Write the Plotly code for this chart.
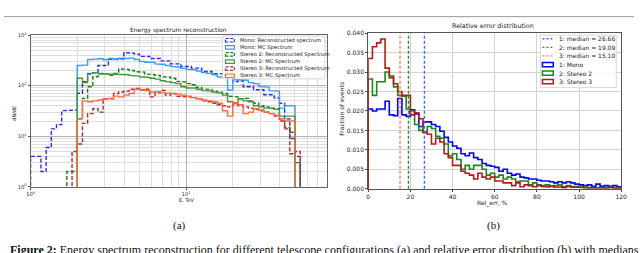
import numpy as np
import plotly.graph_objects as go

W, H = 640, 253

# ---------------- Left panel: energy spectrum (log bins, 1/30 decade) ----------------
E_MIN_LOG, E_MAX_LOG, N_EBINS = 0.0, 2.0, 60
mono_reco = [4, 4, 2, 6, 14, 17, 32, 32, 33, 71, 120, 170, 180, 250, 250, 330, 340, 340, 450, 440,
             420, 380, 380, 345, 345, 310, 310, 270, 270, 240, 240, 222, 222, 191, 191, 173, 173, 160,
             160, 120, 125, 95, 95, 83, 83, 66, 66, 57, 45, 22, 9, 4]
mono_mc = [0] * 9 + [250, 255, 330, 335, 340, 325, 345, 330, 350, 345, 350, 330, 300, 290, 290, 270,
                     262, 250, 240, 232, 220, 212, 205, 195, 182, 175, 165, 150, 145, 82, 132, 130,
                     128, 115, 110, 97, 94, 80, 78, 36, 40, 40]
stereo2_reco = [0] * 7 + [2, 2, 22, 56, 95, 150, 170, 172, 160, 175, 215, 210, 200, 190, 185, 170, 165,
                          160, 150, 148, 140, 122, 118, 110, 104, 92, 86, 84, 78, 74, 70, 62, 60, 55,
                          56, 50, 45, 40, 38, 36, 35, 22, 15, 12, 3]
stereo2_mc = [0] * 9 + [140, 115, 175, 180, 175, 170, 170, 165, 168, 165, 160, 155, 150, 145, 140, 135,
                        125, 120, 115, 110, 95, 90, 90, 85, 80, 78, 75, 72, 65, 48, 45, 55, 50, 48, 40,
                        38, 36, 36, 34, 25, 25, 25]
stereo3_reco = [0] * 8 + [5, 7, 18, 28, 35, 30, 55, 55, 70, 75, 78, 85, 88, 82, 85, 60, 72, 80, 65, 70,
                          62, 62, 60, 58, 55, 50, 48, 45, 42, 40, 38, 42, 40, 38, 36, 34, 32, 30, 28,
                          25, 20, 14, 4.5, 5]
stereo3_mc = [0] * 9 + [22, 50, 48, 50, 52, 55, 56, 62, 60, 65, 70, 85, 84, 80, 75, 76, 72, 71, 70, 68,
                        65, 62, 58, 55, 52, 50, 48, 45, 32, 25, 46, 42, 28, 30, 35, 33, 30, 28, 26, 22,
                        20, 20]
left_names = ["Mono: Reconstructed spectrum", "Mono: MC Spectrum",
              "Stereo 2: Reconstructed Spectrum", "Stereo 2: MC Spectrum",
              "Stereo 3: Reconstructed Spectrum", "Stereo 3: MC Spectrum"]
left_colors = ["#2b2be8", "#3a9cf2", "#1d7a1d", "#3f9a3f", "#b22a2a", "#ff6a3c"]
left_dash = ["dash", "solid", "dash", "solid", "dash", "solid"]
left_series = [mono_reco, mono_mc, stereo2_reco, stereo2_mc, stereo3_reco, stereo3_mc]

# ---------------- Right panel: relative error distribution ----------------
rel_edges = list(range(0, 121, 2))
rel_mono = [0.0205, 0.0200, 0.0205, 0.0205, 0.0225, 0.0190, 0.0188, 0.0232, 0.0190, 0.0186,
            0.0203, 0.0192, 0.0160, 0.0172, 0.0172, 0.0165, 0.0160, 0.0148, 0.0132, 0.0120,
            0.0110, 0.0104, 0.0090, 0.0085, 0.0092, 0.0080, 0.0075, 0.0065, 0.0060, 0.0058,
            0.0055, 0.0045, 0.0050, 0.0040, 0.0035, 0.0038, 0.0030, 0.0028, 0.0025, 0.0025,
            0.0022, 0.0020, 0.0020, 0.0018, 0.0015, 0.0018, 0.0015, 0.0018, 0.0015, 0.0012,
            0.0010, 0.0008, 0.0010, 0.0006, 0.0012, 0.0006, 0.0008, 0.0006, 0.0008, 0.0005]
rel_stereo2 = [0.0282, 0.0240, 0.0275, 0.0275, 0.0300, 0.0285, 0.0262, 0.0240, 0.0238, 0.0205,
               0.0200, 0.0165, 0.0150, 0.0145, 0.0160, 0.0155, 0.0135, 0.0130, 0.0115, 0.0085,
               0.0090, 0.0075, 0.0050, 0.0060, 0.0050, 0.0060, 0.0060, 0.0050, 0.0035, 0.0040,
               0.0030, 0.0035, 0.0025, 0.0030, 0.0025, 0.0018, 0.0020, 0.0020, 0.0010, 0.0015,
               0.0010, 0.0008, 0.0010, 0.0006, 0.0008, 0.0010, 0.0005, 0.0008, 0.0006, 0.0005,
               0.0004, 0.0005, 0.0003, 0.0004, 0.0003, 0.0004, 0.0003, 0.0003, 0.0004, 0.0003]
rel_stereo3 = [0.0335, 0.0365, 0.0375, 0.0385, 0.0310, 0.0290, 0.0270, 0.0250, 0.0240, 0.0240,
               0.0190, 0.0195, 0.0180, 0.0145, 0.0140, 0.0115, 0.0130, 0.0120, 0.0090, 0.0080,
               0.0060, 0.0060, 0.0045, 0.0040, 0.0035, 0.0025, 0.0040, 0.0030, 0.0025, 0.0030,
               0.0020, 0.0020, 0.0015, 0.0015, 0.0008, 0.0015, 0.0005, 0.0010, 0.0008, 0.0005,
               0.0008, 0.0006, 0.0005, 0.0007, 0.0004, 0.0005, 0.0003, 0.0006, 0.0004, 0.0003,
               0.0004, 0.0002, 0.0003, 0.0003, 0.0002, 0.0003, 0.0002, 0.0004, 0.0002, 0.0001]
medians = [26.66, 19.09, 15.10]
median_labels = ["1: median = 26.66", "2: median = 19.09", "3: median = 15.10"]
median_colors = ["#3b6ee8", "#2a8f2a", "#ff7f50"]
hist_labels = ["1: Mono", "2: Stereo 2", "3: Stereo 3"]
hist_colors = ["#0000ff", "#1b861b", "#b31b1b"]
rel_series = [rel_mono, rel_stereo2, rel_stereo3]

FONT = "DejaVu Sans"
TXT = "#222222"


def px(x):
    return x / W


def py(y):
    return 1 - y / H


def step_xy(edges, vals, floor):
    idx = [i for i, v in enumerate(vals) if v > 0]
    s, e = idx[0], idx[-1]
    xs, ys = [edges[s]], [floor]
    for i in range(s, e + 1):
        v = vals[i] if vals[i] > 0 else floor
        xs += [edges[i], edges[i + 1]]
        ys += [v, v]
    xs.append(edges[e + 1])
    ys.append(floor)
    return xs, ys


fig = go.Figure()

e_edges = list(np.logspace(E_MIN_LOG, E_MAX_LOG, N_EBINS + 1))
for vals, name, col, dash in zip(left_series, left_names, left_colors, left_dash):
    xs, ys = step_xy(e_edges, vals, 1e-2)
    fig.add_trace(go.Scatter(x=xs, y=ys, mode="lines", name=name, showlegend=False,
                             line=dict(color=col, width=1.4, dash=dash if dash == "solid" else "4px,2px"),
                             xaxis="x", yaxis="y"))

for vals, name, col in zip(rel_series, hist_labels, hist_colors):
    xs, ys = step_xy(rel_edges, vals, 0.0)
    fig.add_trace(go.Scatter(x=xs, y=ys, mode="lines", name=name, showlegend=False,
                             line=dict(color=col, width=1.6), xaxis="x2", yaxis="y2"))

shapes = []
for m, col in zip(medians, median_colors):
    shapes.append(dict(type="line", xref="x2", yref="y2 domain", x0=m, x1=m, y0=0, y1=1,
                       line=dict(color=col, width=1.4, dash="3px,2px")))

minor_x = [k * 10 ** n for n in range(0, 2) for k in range(2, 10)]
minor_y = [k * 10 ** n for n in range(0, 3) for k in range(2, 10)]

ann = []


def text(x, y, s, size=6, xanchor="center", yanchor="middle", angle=0, family=FONT, color=TXT):
    ann.append(dict(x=px(x), y=py(y), xref="paper", yref="paper", text=s, showarrow=False,
                    xanchor=xanchor, yanchor=yanchor, textangle=angle,
                    font=dict(size=size, family=family, color=color)))


# titles and axis labels
text(177, 26.5, "Energy spectrum reconstruction", size=6)
text(186, 202, "E, TeV", size=5)
text(10, 112, "dN/dE", size=5, angle=-90)
text(497, 22.5, "Relative error distribution", size=6.4)
text(496, 205, "Rel_err, %", size=6)
text(342, 108, "Fraction of events", size=6, angle=-90)

# left legend
shapes.append(dict(type="rect", xref="paper", yref="paper", x0=px(222), x1=px(326), y0=py(77), y1=py(33),
                   fillcolor="rgba(255,255,255,0.85)", line=dict(color="#cfcfcf", width=0.8)))
for i, (name, col, dash) in enumerate(zip(left_names, left_colors, left_dash)):
    yc = 37.3 + 7.3 * i
    shapes.append(dict(type="rect", xref="paper", yref="paper", x0=px(225), x1=px(234),
                       y0=py(yc + 1.8), y1=py(yc - 1.8),
                       line=dict(color=col, width=1.2, dash="3px,1.5px" if dash == "dash" else "solid")))
    text(238, yc, name, size=5.2, xanchor="left")

# right legend
shapes.append(dict(type="rect", xref="paper", yref="paper", x0=px(545), x1=px(622), y0=py(86), y1=py(32),
                   fillcolor="rgba(255,255,255,0.85)", line=dict(color="#cfcfcf", width=0.8)))
for i, (lab, col) in enumerate(zip(median_labels, median_colors)):
    yc = 35.8 + 8.8 * i
    shapes.append(dict(type="line", xref="paper", yref="paper", x0=px(547), x1=px(558), y0=py(yc), y1=py(yc),
                       line=dict(color=col, width=1.4, dash="2px,2px")))
    text(562, yc, lab, size=6, xanchor="left")
for i, (lab, col) in enumerate(zip(hist_labels, hist_colors)):
    yc = 62.3 + 8.8 * i
    shapes.append(dict(type="rect", xref="paper", yref="paper", x0=px(547), x1=px(558),
                       y0=py(yc + 2.2), y1=py(yc - 2.2), line=dict(color=col, width=1.5)))
    text(562, yc, lab, size=6, xanchor="left")

# page elements
shapes.append(dict(type="line", xref="paper", yref="paper", x0=0, x1=1, y0=py(13), y1=py(13),
                   line=dict(color="#9a9a9a", width=1)))
text(178, 228, "(a)", size=11, family="Liberation Serif", color="#111")
text(497, 228, "(b)", size=11, family="Liberation Serif", color="#111")
text(4, 243.5, "<b>Figure 2:</b> Energy spectrum reconstruction for different telescope configurations (a) and relative error distribution (b) with medians",
     size=12, xanchor="left", yanchor="top", family="Liberation Serif", color="#111")

fig.update_layout(
    width=W, height=H, margin=dict(l=0, r=0, t=0, b=0),
    paper_bgcolor="white", plot_bgcolor="white",
    font=dict(family=FONT, color=TXT, size=6),
    xaxis=dict(domain=[px(27), px(328)], type="log", range=[0, 1.905], anchor="y",
               tickvals=[1, 10], ticktext=["10<sup>0</sup>", "10<sup>1</sup>"],
               tickfont=dict(size=5), ticks="outside", ticklen=2, tickcolor="#555",
               showgrid=True, gridcolor="#b4b4b4", gridwidth=0.8,
               minor=dict(tickvals=minor_x, showgrid=True, gridcolor="#dedede", gridwidth=0.7, ticks=""),
               showline=True, mirror=True, linecolor="#666", linewidth=1, zeroline=False),
    yaxis=dict(domain=[py(188), py(32)], type="log", range=[0, 3], anchor="x",
               tickvals=[1, 10, 100, 1000],
               ticktext=["10<sup>0</sup>", "10<sup>1</sup>", "10<sup>2</sup>", "10<sup>3</sup>"],
               tickfont=dict(size=5), ticks="outside", ticklen=2, tickcolor="#555",
               showgrid=True, gridcolor="#b4b4b4", gridwidth=0.8,
               minor=dict(tickvals=minor_y, showgrid=True, gridcolor="#dedede", gridwidth=0.7, ticks=""),
               showline=True, mirror=True, linecolor="#666", linewidth=1, zeroline=False),
    xaxis2=dict(domain=[px(370), px(627)], range=[0, 120], anchor="y2",
                tickvals=[0, 20, 40, 60, 80, 100, 120], tickfont=dict(size=6),
                ticks="outside", ticklen=2, tickcolor="#444",
                showgrid=True, gridcolor="#d2d2d2", gridwidth=1.3,
                showline=True, mirror=True, linecolor="#555", linewidth=1, zeroline=False),
    yaxis2=dict(domain=[py(190), py(30)], range=[0, 0.040], anchor="x2",
                tickvals=[0, 0.005, 0.01, 0.015, 0.02, 0.025, 0.03, 0.035, 0.04],
                tickformat=".3f", tickfont=dict(size=6),
                ticks="outside", ticklen=2, tickcolor="#444",
                showgrid=True, gridcolor="#d2d2d2", gridwidth=1.3,
                showline=True, mirror=True, linecolor="#555", linewidth=1, zeroline=False),
    annotations=ann, shapes=shapes,
)

fig.write_html("out.html", config={"displayModeBar": False},
               post_script="document.body.style.margin='0px';document.body.style.overflow='hidden';")
